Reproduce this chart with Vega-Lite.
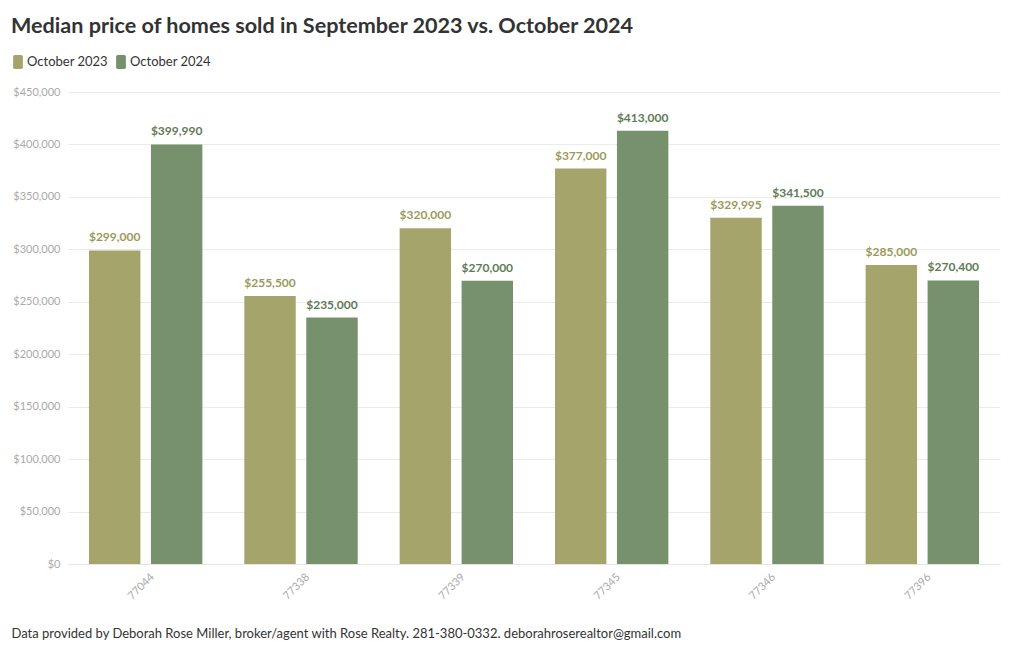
{
  "$schema": "https://vega.github.io/schema/vega-lite/v6.json",
  "width": 932,
  "height": 472,
  "autosize": {"type": "none"},
  "padding": {"left": 68, "top": 92, "right": 20, "bottom": 86},
  "background": "#ffffff",
  "config": {
    "font": "Lato",
    "view": {"stroke": null},
    "axis": {"labelFont": "Lato", "titleFont": "Lato"}
  },
  "title": {
    "text": "Median price of homes sold in September 2023 vs. October 2024",
    "anchor": "start",
    "frame": "bounds",
    "font": "Lato",
    "fontSize": 21.6,
    "fontWeight": "bold",
    "color": "#333333",
    "offset": 17
  },
  "data": {
    "values": [
      {"zip": "77044", "period": "October 2023", "price": 299000},
      {"zip": "77044", "period": "October 2024", "price": 399990},
      {"zip": "77338", "period": "October 2023", "price": 255500},
      {"zip": "77338", "period": "October 2024", "price": 235000},
      {"zip": "77339", "period": "October 2023", "price": 320000},
      {"zip": "77339", "period": "October 2024", "price": 270000},
      {"zip": "77345", "period": "October 2023", "price": 377000},
      {"zip": "77345", "period": "October 2024", "price": 413000},
      {"zip": "77346", "period": "October 2023", "price": 329995},
      {"zip": "77346", "period": "October 2024", "price": 341500},
      {"zip": "77396", "period": "October 2023", "price": 285000},
      {"zip": "77396", "period": "October 2024", "price": 270400}
    ]
  },
  "encoding": {
    "x": {
      "field": "zip",
      "type": "nominal",
      "scale": {"paddingInner": 0.27, "paddingOuter": 0.135},
      "axis": {
        "title": "Data provided by Deborah Rose Miller, broker/agent with Rose Realty. 281-380-0332. deborahroserealtor@gmail.com",
        "titleFont": "Lato",
        "titleFontSize": 13,
        "titleFontWeight": "normal",
        "titleColor": "#333333",
        "titleAnchor": "start",
        "titleAlign": "left",
        "titleX": -57,
        "titleY": 63,
        "labelAngle": -45,
        "labelAlign": "right",
        "labelBaseline": "middle",
        "labelColor": "#aaaaaa",
        "labelFontSize": 11,
        "labelPadding": 11,
        "labelOffset": 7,
        "domainColor": "#e6e6e6",
        "ticks": false,
        "grid": false
      }
    },
    "xOffset": {"field": "period", "type": "nominal", "scale": {"paddingInner": 0.17}},
    "y": {
      "field": "price",
      "type": "quantitative",
      "scale": {"domain": [0, 450000], "nice": false},
      "axis": {
        "title": null,
        "format": "$,.0f",
        "values": [0, 50000, 100000, 150000, 200000, 250000, 300000, 350000, 400000, 450000],
        "labelColor": "#aaaaaa",
        "labelFontSize": 11,
        "labelPadding": 8,
        "labelOverlap": false,
        "ticks": false,
        "domain": false,
        "gridColor": "#ebebeb"
      }
    }
  },
  "layer": [
    {
      "mark": {"type": "bar"},
      "encoding": {
        "color": {
          "field": "period",
          "type": "nominal",
          "scale": {"range": ["#a5a46b", "#76916b"]},
          "legend": {
            "title": null,
            "orient": "none",
            "direction": "horizontal",
            "legendX": -57,
            "legendY": -37,
            "labelFont": "Lato",
            "labelFontSize": 13,
            "labelColor": "#333333",
            "symbolType": "M-0.45,-1 H0.45 Q0.7,-1 0.7,-0.75 V0.75 Q0.7,1 0.45,1 H-0.45 Q-0.7,1 -0.7,0.75 V-0.75 Q-0.7,-1 -0.45,-1 Z",
            "symbolSize": 196,
            "symbolStrokeWidth": 0,
            "columnPadding": 6,
            "labelOffset": 2
          }
        }
      }
    },
    {
      "mark": {"type": "text", "baseline": "bottom", "dy": -6, "fontWeight": "bold", "fontSize": 12, "font": "Lato"},
      "encoding": {
        "text": {"field": "price", "type": "quantitative", "format": "$,.0f"},
        "color": {
          "condition": {"test": "datum.period === 'October 2023'", "value": "#9c9a5b"},
          "value": "#5f7b55"
        }
      }
    }
  ]
}
